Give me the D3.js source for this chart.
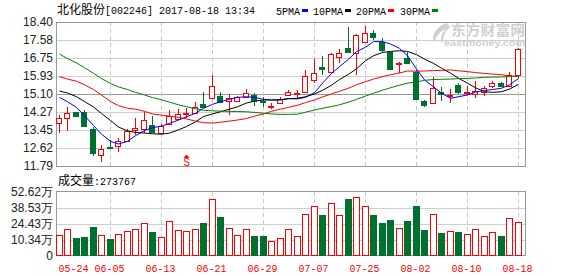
<!DOCTYPE html>
<html>
<head>
<meta charset="utf-8">
<script src="https://cdn.jsdelivr.net/npm/d3@7"></script>
<style>
body { margin: 0; background: #fff; }
svg { display: block; }
</style>
</head>
<body>
<div id="chart"></div>
<script>
// trading days shown on the chart
var dates = ["05-24","05-25","05-26","05-31","06-01","06-02","06-05","06-06","06-07","06-08",
  "06-09","06-12","06-13","06-14","06-15","06-16","06-19","06-20","06-21","06-22",
  "06-23","06-26","06-27","06-28","06-29","06-30","07-03","07-04","07-05","07-06",
  "07-07","07-18","07-19","07-20","07-21","07-24","07-25","07-26","07-27","07-28",
  "07-31","08-01","08-02","08-03","08-04","08-07","08-08","08-09","08-10","08-11",
  "08-14","08-15","08-16","08-17","08-18"];

var opens  = [13.75,13.98,14.25,14.25,13.49,12.29,12.68,12.71,12.92,13.44,
  13.47,13.67,13.29,13.70,13.95,14.18,14.24,14.63,14.90,15.00,
  14.77,14.79,14.94,15.05,14.77,14.51,14.67,15.05,15.09,15.20,
  15.74,16.33,16.12,16.81,17.19,16.96,17.50,17.88,17.47,17.01,
  16.50,16.76,16.12,14.77,14.70,15.17,15.02,15.51,15.17,15.10,
  15.20,15.46,15.62,15.46,15.99];
var closes = [13.98,14.24,14.10,13.64,12.37,12.56,12.65,12.94,13.41,13.55,
  13.90,13.37,13.64,14.10,14.16,14.21,14.51,14.51,15.46,14.74,
  14.90,14.94,15.13,14.79,14.71,14.54,14.87,15.20,15.16,15.92,
  16.07,16.26,16.92,16.96,17.04,17.80,17.88,17.73,17.12,16.24,
  16.52,16.50,14.85,14.59,15.36,15.10,15.05,15.20,15.20,15.25,
  15.39,15.62,15.48,15.99,17.15];
var highs  = [14.13,14.48,14.28,14.36,13.57,12.75,12.98,13.06,13.47,13.98,
  14.28,14.09,13.70,14.36,14.39,14.44,14.74,15.20,15.97,15.20,
  15.10,15.00,15.31,15.13,14.94,14.70,14.94,15.28,15.28,16.20,
  16.69,16.84,16.96,17.16,18.16,17.85,18.22,18.03,17.65,17.04,
  16.58,17.04,16.20,14.82,15.86,15.43,15.31,15.59,15.46,15.69,
  15.46,15.71,15.66,16.12,17.19];
var lows   = [13.29,13.41,14.05,13.60,12.26,11.99,12.63,12.42,12.91,13.21,
  13.29,13.29,13.26,13.67,13.90,13.98,14.21,14.48,14.87,14.71,
  14.13,14.74,14.90,14.56,14.51,14.39,14.64,15.00,14.92,15.13,
  15.59,15.97,16.09,16.50,16.96,15.99,17.42,17.57,17.04,16.20,
  16.04,16.46,14.82,14.51,14.67,14.77,14.70,15.10,15.05,14.90,
  15.00,15.39,15.43,15.43,15.81];

// volume, in 万 shares
var volumes = [17.0,21.7,14.8,15.4,23.6,16.8,13.7,17.6,20.0,21.7,
  26.6,19.5,15.4,28.3,20.9,20.1,21.7,26.9,46.6,31.8,
  22.5,16.8,21.7,16.2,16.2,11.8,14.3,21.7,15.9,34.0,
  41.4,33.5,43.1,33.2,46.6,48.8,41.4,33.5,26.9,29.3,
  22.5,28.5,40.9,21.1,34.8,18.7,20.1,19.5,17.6,21.7,
  15.9,19.2,16.2,30.7,27.3767];

// moving averages as drawn on the chart
var ma5  = [14.94,14.74,14.48,14.10,13.65,13.25,12.92,12.80,12.92,13.18,
  13.42,13.55,13.62,13.75,13.90,14.05,14.21,14.44,14.62,14.74,
  14.85,14.94,14.97,14.94,14.85,14.82,14.82,14.88,14.87,14.94,
  15.16,15.59,16.04,16.35,16.69,17.04,17.24,17.50,17.50,17.39,
  17.19,16.85,16.25,15.74,15.43,15.13,14.90,14.97,15.05,15.18,
  15.26,15.30,15.36,15.51,15.81];
var ma10 = [15.23,15.14,14.97,14.75,14.50,14.20,13.88,13.58,13.40,13.33,
  13.30,13.27,13.25,13.30,13.45,13.60,13.82,14.06,14.18,14.28,
  14.40,14.51,14.68,14.77,14.82,14.82,14.84,14.88,14.90,14.97,
  15.10,15.26,15.50,15.76,16.00,16.25,16.62,16.85,17.00,17.05,
  17.08,17.05,16.90,16.70,16.50,16.28,16.05,15.82,15.59,15.38,
  15.20,15.17,15.20,15.32,15.54];
var ma20 = [15.89,15.78,15.68,15.52,15.30,15.05,14.75,14.56,14.44,14.40,
  14.30,14.18,14.12,14.08,14.02,13.95,13.85,13.78,13.76,13.80,
  13.85,13.90,13.97,14.08,14.18,14.30,14.40,14.48,14.58,14.70,
  14.82,14.96,15.10,15.22,15.36,15.52,15.66,15.78,15.89,15.98,
  16.06,16.15,16.14,16.15,16.17,16.18,16.20,16.16,16.12,16.08,
  16.04,16.01,15.98,15.92,15.90];
var ma30 = [16.93,16.72,16.52,16.30,16.05,15.80,15.58,15.42,15.30,15.17,
  15.05,14.93,14.83,14.72,14.60,14.51,14.42,14.35,14.32,14.31,
  14.30,14.29,14.28,14.25,14.21,14.18,14.16,14.16,14.17,14.26,
  14.36,14.44,14.52,14.60,14.72,14.85,15.00,15.13,15.27,15.38,
  15.50,15.59,15.65,15.72,15.76,15.77,15.78,15.80,15.81,15.83,
  15.86,15.87,15.88,15.89,15.92];

var priceTicks = [18.40,17.58,16.75,15.93,15.10,14.27,13.45,12.62,11.79];
// volume panel labels sit on evenly spaced grid lines
var volTickLabels = ["52.62万","38.53万","24.43万","10.34万","0"];
var dateTicks = ["05-24","06-05","06-13","06-21","06-29","07-07","07-25","08-02","08-10","08-18"];
var maNames = ["5PMA","10PMA","20PMA","30PMA"];
var exRightDate = "06-16";

var RED = "#ff0000", GREEN = "#00702f";
var CJK = "'Noto Sans CJK SC', sans-serif";
var MONO = "'Liberation Mono', monospace";
var SANS = "'Liberation Sans', Arial, sans-serif";

var width = 578, height = 276;
var left = 56, right = 526;
var pTop = 22, pBot = 166, vTop = 192, vBot = 255.5;

var svg = d3.select("#chart").append("svg")
    .attr("width", width)
    .attr("height", height);

var x = d3.scaleBand().domain(dates).range([54.25, 521.75]);
function cx(d) { return Math.round(x(d) + x.bandwidth() / 2) + 0.5; }

var y = d3.scaleLinear().domain([11.79, 18.40]).range([pBot, pTop]);
var yv = d3.scaleLinear().domain([0, 52.62]).range([vBot, vTop]);
var yvGrid = d3.scalePoint().domain(volTickLabels).range([vTop, vBot]);

// header
var title = svg.append("text").attr("x", 57).attr("y", 14).attr("fill", "#000");
title.append("tspan").attr("font-family", CJK).attr("font-size", 12).text("北化股份");
title.append("tspan").attr("font-family", MONO).attr("font-size", 11)
    .attr("textLength", 150).attr("lengthAdjust", "spacingAndGlyphs")
    .text("[002246] 2017-08-18 13:34");

var legendX = [276, 313, 356, 400];
var maColors = ["#0000ff", "#000000", RED, "#008000"];
maNames.forEach(function(n, i) {
  svg.append("text").attr("x", legendX[i]).attr("y", 15)
      .attr("font-family", MONO).attr("font-size", 11)
      .attr("textLength", n.length * 6).attr("lengthAdjust", "spacingAndGlyphs")
      .text(n);
  svg.append("rect").attr("x", legendX[i] + n.length * 6 + 2).attr("y", 9)
      .attr("width", 6).attr("height", 3).attr("fill", maColors[i]);
});

// watermark
var wm = svg.append("g").attr("fill", "#cfcfcf");
wm.append("path")
    .attr("d", "M447,23 C437,26 431,34 434,43 C436,36 440,31 446,29 C441,34 440,39 442,44 C443,36 446,30 450,27 Z");
wm.append("text").attr("x", 451).attr("y", 35).attr("font-family", CJK)
    .attr("font-size", 14).attr("font-weight", "bold")
    .attr("textLength", 74).attr("lengthAdjust", "spacingAndGlyphs").text("东方财富网");
wm.append("text").attr("x", 444).attr("y", 46).attr("font-family", SANS)
    .attr("font-size", 9).attr("font-weight", "bold")
    .attr("textLength", 81).attr("lengthAdjust", "spacingAndGlyphs").text("eastmoney.com");

// grids
function vGrid(g, y0, y1) {
  g.selectAll("line.vg").data(dateTicks.slice(1)).enter().append("line")
      .attr("class", "vg")
      .attr("x1", cx).attr("x2", cx)
      .attr("y1", y0).attr("y2", y1)
      .attr("stroke", "#c8c8c8").attr("stroke-dasharray", "4,3");
}

var priceAxis = svg.append("g")
    .attr("transform", "translate(" + left + ",0)")
    .call(d3.axisLeft(y).tickValues(priceTicks).tickSize(0).tickPadding(3)
      .tickFormat(d3.format(".2f")));
priceAxis.select(".domain").remove();
priceAxis.selectAll("text").attr("font-family", SANS).attr("font-size", 12).attr("fill", "#222");

svg.append("g").selectAll("line").data(priceTicks.slice(1, -1)).enter().append("line")
    .attr("x1", left).attr("x2", right)
    .attr("y1", function(d) { return Math.round(y(d)) + 0.5; })
    .attr("y2", function(d) { return Math.round(y(d)) + 0.5; })
    .attr("stroke", function(d) { return d === 15.10 ? "#999" : "#cfcfcf"; });
vGrid(svg.append("g"), pTop, pBot);

var volAxis = svg.append("g")
    .attr("transform", "translate(" + left + ",0)")
    .call(d3.axisLeft(yvGrid).tickSize(0).tickPadding(3));
volAxis.select(".domain").remove();
volAxis.selectAll("text").attr("font-family", SANS).attr("font-size", 12).attr("fill", "#222");

svg.append("g").selectAll("line").data(volTickLabels.slice(1, -1)).enter().append("line")
    .attr("x1", left).attr("x2", right)
    .attr("y1", function(d) { return Math.round(yvGrid(d)) + 0.5; })
    .attr("y2", function(d) { return Math.round(yvGrid(d)) + 0.5; })
    .attr("stroke", "#cfcfcf");
vGrid(svg.append("g"), vTop, vBot);

// frames
svg.append("rect").attr("x", left + 0.5).attr("y", pTop + 0.5)
    .attr("width", right - left - 1).attr("height", pBot - pTop)
    .attr("fill", "none").attr("stroke", "#999");
svg.append("rect").attr("x", left + 0.5).attr("y", vTop - 0.5)
    .attr("width", right - left - 1).attr("height", vBot - vTop + 0.5)
    .attr("fill", "none").attr("stroke", "#999");

// candles
var idx = d3.range(dates.length);
var candles = svg.append("g").attr("shape-rendering", "crispEdges");
idx.forEach(function(i) {
  var d = dates[i], up = closes[i] >= opens[i];
  var col = up ? RED : GREEN;
  candles.append("line")
      .attr("x1", cx(d)).attr("x2", cx(d))
      .attr("y1", y(highs[i])).attr("y2", y(lows[i]))
      .attr("stroke", col);
  var top = Math.round(y(Math.max(opens[i], closes[i])));
  var h = Math.max(1, Math.round(y(Math.min(opens[i], closes[i]))) - top);
  if (up) {
    candles.append("rect")
        .attr("x", cx(d) - 3).attr("y", top + 0.5)
        .attr("width", 5).attr("height", h)
        .attr("fill", "#fff").attr("stroke", col);
  } else {
    candles.append("rect")
        .attr("x", cx(d) - 3.5).attr("y", top)
        .attr("width", 6).attr("height", h + 1)
        .attr("fill", col);
  }
});

// moving average lines
[ma5, ma10, ma20, ma30].forEach(function(arr, k) {
  svg.append("path")
      .datum(idx)
      .attr("fill", "none")
      .attr("stroke", maColors[k])
      .attr("stroke-width", 1)
      .attr("d", d3.line()
        .x(function(i) { return cx(dates[i]); })
        .y(function(i) { return y(arr[i]); }));
});

// ex-right marker
var sx = cx(exRightDate);
svg.append("path").attr("d", "M" + (sx - 3) + ",158 L" + sx + ",154.5 L" + (sx + 3) + ",158 Z").attr("fill", RED);
svg.append("text").attr("x", sx).attr("y", 166).attr("text-anchor", "middle")
    .attr("font-family", SANS).attr("font-size", 10).attr("fill", RED).text("S");

// volume
svg.append("text").attr("x", 58).attr("y", 185).attr("fill", "#000")
  .call(function(t) {
    t.append("tspan").attr("font-family", CJK).attr("font-size", 12).text("成交量");
    t.append("tspan").attr("font-family", MONO).attr("font-size", 11)
        .attr("textLength", 42).attr("lengthAdjust", "spacingAndGlyphs")
        .text(":" + Math.round(volumes[volumes.length - 1] * 10000));
  });

var bars = svg.append("g").attr("shape-rendering", "crispEdges");
idx.forEach(function(i) {
  var d = dates[i], up = closes[i] >= opens[i];
  var top = Math.round(yv(volumes[i]));
  if (up) {
    bars.append("rect")
        .attr("x", cx(d) - 3).attr("y", top + 0.5)
        .attr("width", 6).attr("height", Math.round(vBot) - top - 1)
        .attr("fill", "#fff").attr("stroke", RED);
  } else {
    bars.append("rect")
        .attr("x", cx(d) - 3.5).attr("y", top)
        .attr("width", 7).attr("height", Math.round(vBot) - top)
        .attr("fill", GREEN);
  }
});

// date axis
var xAxis = svg.append("g")
    .attr("transform", "translate(0," + vBot + ")")
    .call(d3.axisBottom(x).tickValues(dateTicks).tickSize(0));
xAxis.select(".domain").remove();
xAxis.selectAll("text")
    .attr("y", 16).attr("dy", 0)
    .attr("font-family", MONO).attr("font-size", 11).attr("fill", RED)
    .attr("textLength", 30).attr("lengthAdjust", "spacingAndGlyphs");
xAxis.selectAll(".tick").filter(function(d) { return d === dateTicks[0]; })
    .select("text").attr("text-anchor", "start").attr("x", 0);
</script>
</body>
</html>
